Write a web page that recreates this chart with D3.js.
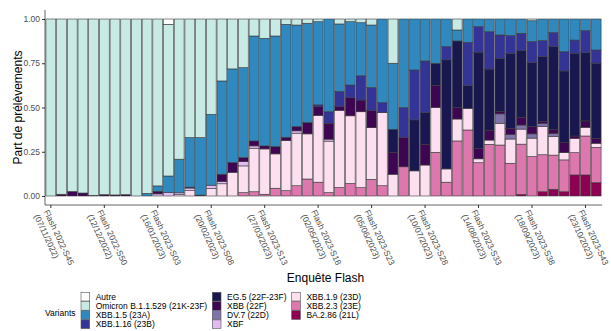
<!DOCTYPE html>
<html>
<head>
<meta charset="utf-8">
<script src="https://cdn.jsdelivr.net/npm/d3@7"></script>
<style>
  body { margin: 0; background: #fff; }
  svg { display: block; font-family: "Liberation Sans", Arial, sans-serif; }
</style>
</head>
<body>
<div id="chart"></div>
<script>
// semaines des enquêtes Flash (une barre par semaine)
const semaines = [
  "2022-S45", "2022-S46", "2022-S47", "2022-S48", "2022-S49", "2022-S50", "2022-S51", "2022-S52",
  "2023-S01", "2023-S02", "2023-S03", "2023-S04", "2023-S05", "2023-S06", "2023-S07", "2023-S08",
  "2023-S09", "2023-S10", "2023-S11", "2023-S12", "2023-S13", "2023-S14", "2023-S15", "2023-S16",
  "2023-S17", "2023-S18", "2023-S19", "2023-S20", "2023-S21", "2023-S22", "2023-S23", "2023-S24",
  "2023-S25", "2023-S26", "2023-S27", "2023-S28", "2023-S29", "2023-S30", "2023-S31", "2023-S32",
  "2023-S33", "2023-S34", "2023-S35", "2023-S36", "2023-S37", "2023-S38", "2023-S39", "2023-S40",
  "2023-S41", "2023-S42", "2023-S43", "2023-S44"
];

const tickSemaines = ["2022-S45", "2022-S50", "2023-S03", "2023-S08", "2023-S13", "2023-S18",
  "2023-S23", "2023-S28", "2023-S33", "2023-S38", "2023-S43"];
const tickDates = ["07/11/2022", "12/12/2022", "16/01/2023", "20/02/2023", "27/03/2023", "02/05/2023",
  "05/06/2023", "10/07/2023", "14/08/2023", "18/09/2023", "23/10/2023"];

const yTicks = [0, 0.25, 0.5, 0.75, 1];

// variants, dans l'ordre de la légende (le premier est en haut de la pile)
const variants = [
  "Autre", "Omicron B.1.1.529 (21K-23F)", "XBB.1.5 (23A)", "XBB.1.16 (23B)",
  "EG.5 (22F-23F)", "XBB (22F)", "DV.7 (22D)", "XBF",
  "XBB.1.9 (23D)", "XBB.2.3 (23E)", "BA.2.86 (21L)"
];
const couleurs = [
  "#ffffff", "#c7eae5", "#2f89bf", "#343498",
  "#18174f", "#3d0552", "#8073ac", "#e2bbf2",
  "#fde0ef", "#de77ae", "#8e0152"
];

// parts par semaine
const autre = [0,0,0,0,0,0,0,0,0,0, 0,0.03,0,0,0,0,0,0,0,0, 0,0,0,0,0,0,0,0,0,0, 0,0,0,0,0,0,0,0,0,0, 0,0,0,0,0,0,0,0,0,0, 0,0];
const omicron = [1,0.99,0.974,0.983,0.996,0.992,0.994,0.992,1,0.985, 0.943,0.857,0.792,0.67,0.67,0.539,0.35,0.282,0.275,0.096, 0.109,0.096,0.03,0.034,0.024,0.015,0,0.028,0.015,0.021, 0.034,0,0.25,0,0,0,0,0,0.062,0, 0,0,0,0,0,0.01,0,0,0,0, 0,0];
const xbb15 = [0,0,0,0,0,0,0,0,0,0.015, 0.03,0.094,0.19,0.28,0.325,0.40,0.527,0.529,0.508,0.593, 0.608,0.625,0.638,0.574,0.561,0.47,0.524,0.382,0.358,0.3, 0.354,0.473,0.373,0.501,0.288,0.237,0.25,0.156,0.062,0.132, 0.043,0.072,0.09,0.094,0.081,0.117,0.122,0.077,0.185,0.119, 0.066,0.175];
const xbb116 = [0,0,0,0,0,0,0,0,0,0, 0,0,0,0,0,0,0,0,0,0, 0,0,0,0,0,0.01,0.066,0.085,0.072,0.137, 0.13,0.056,0,0.168,0.282,0.292,0,0.075,0,0.245, 0.145,0.211,0.132,0.1,0.098,0.119,0.09,0.079,0.109,0.075, 0.124,0.075];
const eg5 = [0,0,0,0,0,0,0,0,0,0, 0,0,0,0,0,0,0,0,0,0, 0,0,0,0,0,0,0,0,0,0, 0,0,0.13,0,0.288,0.179,0.126,0.616,0.377,0.128, 0.542,0.345,0.301,0.424,0.377,0.362,0.367,0.467,0.405,0.467, 0.386,0.424];
const xbb = [0,0.01,0.026,0.017,0.004,0.008,0.006,0.008,0,0, 0.015,0,0,0.005,0.005,0,0.041,0.055,0.023,0.028, 0.017,0.041,0.019,0.024,0.064,0.05,0.089,0.021,0.102,0.066, 0.096,0,0.124,0.166,0,0.117,0.124,0,0.064,0, 0.06,0.056,0.013,0.034,0.043,0.041,0.01,0.023,0.056,0.013, 0.036,0.028];
const dv7 = [0,0,0,0,0,0,0,0,0,0, 0,0,0,0,0,0,0,0,0,0, 0,0,0,0,0,0,0,0,0,0, 0,0,0,0,0,0,0,0,0,0, 0,0,0.053,0.026,0.023,0.024,0.018,0.019,0,0, 0,0];
const xbf = [0,0,0,0,0,0,0,0,0,0, 0.012,0.019,0.01,0.015,0,0.019,0.013,0,0.024,0.013, 0,0,0,0.013,0,0,0.011,0,0,0, 0,0,0,0,0,0,0,0,0,0, 0,0,0,0,0,0,0,0,0,0, 0,0];
const xbb19 = [0,0,0,0,0,0,0,0,0,0, 0,0,0.008,0.03,0,0.042,0.069,0.134,0.151,0.246, 0.256,0.194,0.283,0.297,0.255,0.377,0.291,0.436,0.382,0.429, 0.292,0.413,0.123,0,0.142,0.175,0.253,0.075,0.124,0.122, 0.022,0.024,0.123,0.137,0.085,0.104,0.16,0.104,0.041,0.081, 0.049,0.023];
const xbb23 = [0,0,0,0,0,0,0,0,0,0, 0,0,0,0,0,0,0,0,0.019,0.024, 0.01,0.044,0.03,0.058,0.096,0.078,0.019,0.048,0.071,0.047, 0.094,0.058,0,0.165,0,0,0.247,0.078,0.311,0.373, 0.188,0.292,0.288,0.185,0.284,0.223,0.209,0.193,0.18,0.126, 0.22,0.2];
const ba286 = [0,0,0,0,0,0,0,0,0,0, 0,0,0,0,0,0,0,0,0,0, 0,0,0,0,0,0,0,0,0,0, 0,0,0,0,0,0,0,0,0,0, 0,0,0,0,0.009,0,0.024,0.038,0.024,0.119, 0.119,0.075];

const series = [autre, omicron, xbb15, xbb116, eg5, xbb, dv7, xbf, xbb19, xbb23, ba286];

const table = semaines.map((s, i) => {
  const row = {semaine: s};
  variants.forEach((v, j) => row[v] = series[j][i]);
  return row;
});

const width = 611;
const height = 331;
const panel = {left: 45, right: 602, top: 10, bottom: 205};

const svg = d3.select("#chart").append("svg")
  .attr("width", width)
  .attr("height", height)
  .attr("viewBox", [0, 0, width, height]);

const x = d3.scaleBand()
  .domain(semaines)
  .range([45.5, 601.5])
  .paddingInner(0.08)
  .paddingOuter(0.04);

const y = d3.scaleLinear()
  .domain([0, 1])
  .range([196, 19]);

const color = d3.scaleOrdinal()
  .domain(variants)
  .range(couleurs);

// pile : BA.2.86 en bas, Autre en haut
const stack = d3.stack()
  .keys(variants.slice().reverse())
  .offset(d3.stackOffsetExpand);

svg.append("g")
  .selectAll("g")
  .data(stack(table))
  .join("g")
    .attr("fill", d => color(d.key))
  .selectAll("rect")
  .data(d => d.filter(p => p[1] - p[0] > 0))
  .join("rect")
    .attr("x", d => x(d.data.semaine))
    .attr("width", x.bandwidth())
    .attr("y", d => y(d[1]))
    .attr("height", d => y(d[0]) - y(d[1]))
    .attr("stroke", "#3a3a3a")
    .attr("stroke-width", 0.6);

// axe y
const yAxis = g => g
  .attr("transform", `translate(${panel.left},0)`)
  .call(d3.axisLeft(y).tickValues(yTicks).tickFormat(d3.format(".2f")).tickSize(3).tickPadding(2))
  .call(g => g.select(".domain").remove())
  .call(g => g.selectAll(".tick line").attr("stroke", "#333"))
  .call(g => g.selectAll(".tick text")
    .attr("fill", "#4d4d4d")
    .attr("font-size", "8.5px")
    .attr("font-family", "Liberation Sans, Arial, sans-serif"));

// axe x
const xAxis = g => g
  .attr("transform", `translate(0,${panel.bottom})`)
  .call(d3.axisBottom(x).tickValues(tickSemaines).tickSize(3).tickFormat(""))
  .call(g => g.select(".domain").remove())
  .call(g => g.selectAll(".tick line").attr("stroke", "#333"))
  .call(g => g.selectAll(".tick").each(function(d) {
    const i = tickSemaines.indexOf(d);
    const t = d3.select(this).select("text")
      .attr("y", null)
      .attr("dy", null)
      .attr("transform", "translate(0,3) rotate(65)")
      .attr("text-anchor", "start")
      .attr("fill", "#4d4d4d")
      .attr("font-size", "8.5px")
      .attr("font-family", "Liberation Sans, Arial, sans-serif");
    t.append("tspan").attr("x", 0).attr("y", 8).text(`Flash ${d}`);
    t.append("tspan").attr("x", 0).attr("y", 18.8).text(`(${tickDates[i]})`);
  }));

svg.append("g").call(yAxis);
svg.append("g").call(xAxis);

// lignes d'axe (theme classique)
svg.append("path")
  .attr("fill", "none")
  .attr("stroke", "#000")
  .attr("stroke-width", 0.6)
  .attr("d", `M${panel.left},${panel.top}V${panel.bottom}H${panel.right}`);

// titres
svg.append("text")
  .attr("transform", `translate(22,${(panel.top + panel.bottom) / 2}) rotate(-90)`)
  .attr("text-anchor", "middle")
  .attr("font-size", "12px")
  .attr("fill", "#000")
  .text("Part de prélèvements");

svg.append("text")
  .attr("x", (panel.left + panel.right) / 2 + 2)
  .attr("y", 282)
  .attr("text-anchor", "middle")
  .attr("font-size", "12px")
  .attr("fill", "#000")
  .text("Enquête Flash");

// légende
const legend = svg.append("g");
legend.append("text")
  .attr("x", 45)
  .attr("y", 316)
  .attr("font-size", "8.5px")
  .attr("fill", "#000")
  .text("Variants");

const colX = [81, 212.3, 291.7];
const keySize = 8.7;
const keyStep = 9.2;

const items = legend.selectAll("g.item")
  .data(variants)
  .join("g")
    .attr("class", "item")
    .attr("transform", (d, i) => `translate(${colX[Math.floor(i / 4)]},${292.3 + (i % 4) * keyStep})`);

items.append("rect")
  .attr("width", keySize)
  .attr("height", keySize)
  .attr("fill", d => color(d))
  .attr("stroke", "#555")
  .attr("stroke-width", 0.6);

items.append("text")
  .attr("x", 14.7)
  .attr("y", keySize / 2 + 3)
  .attr("font-size", "8.5px")
  .attr("fill", "#000")
  .text(d => d);
</script>
</body>
</html>
